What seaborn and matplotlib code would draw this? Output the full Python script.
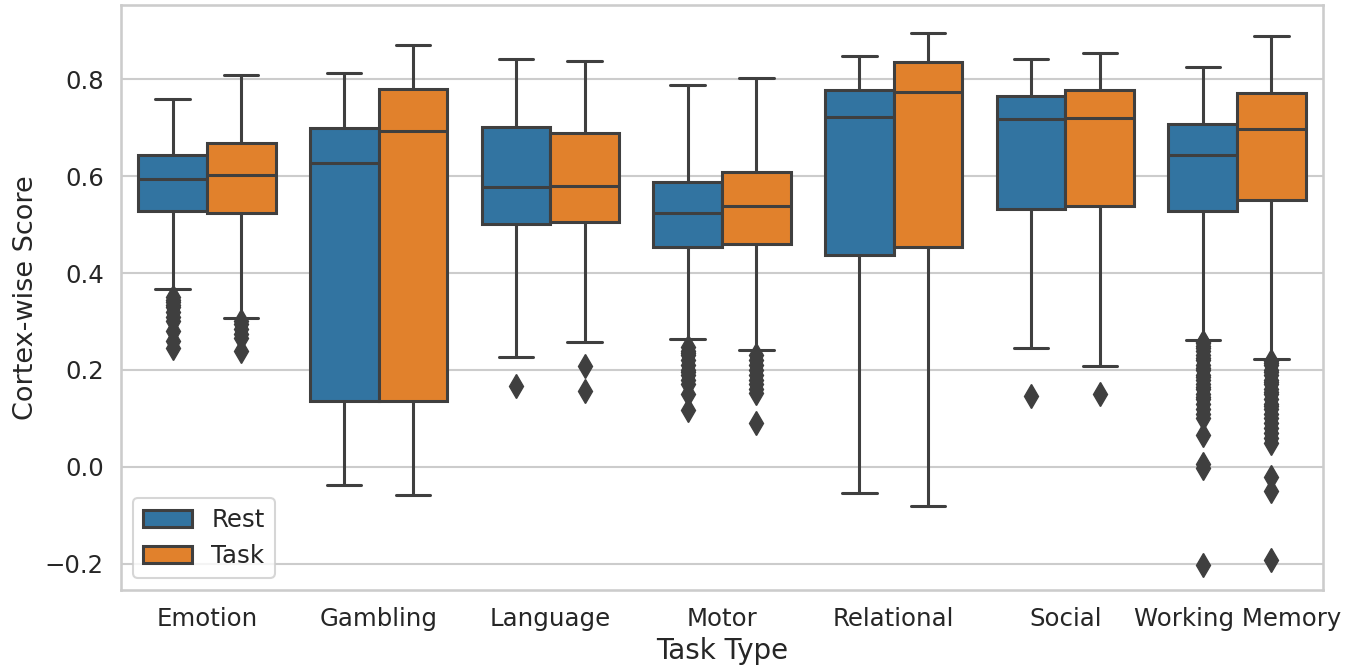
import pandas as pd
import seaborn as sns
import matplotlib.pyplot as plt

# categories
tasks = ["Emotion", "Gambling", "Language", "Motor", "Relational", "Social", "Working Memory"]
conditions = ["Rest", "Task"]

# box stats: (low whisker, q1, median, q3, high whisker)
rest_stats = [
    (0.368, 0.527, 0.594, 0.643, 0.760),
    (-0.038, 0.135, 0.628, 0.699, 0.812),
    (0.227, 0.502, 0.577, 0.701, 0.841),
    (0.264, 0.453, 0.523, 0.588, 0.788),
    (-0.054, 0.438, 0.722, 0.778, 0.848),
    (0.245, 0.533, 0.718, 0.765, 0.841),
    (0.262, 0.529, 0.643, 0.708, 0.825),
]
task_stats = [
    (0.307, 0.524, 0.602, 0.669, 0.808),
    (-0.059, 0.135, 0.693, 0.779, 0.870),
    (0.258, 0.506, 0.579, 0.689, 0.838),
    (0.241, 0.460, 0.539, 0.608, 0.803),
    (-0.080, 0.453, 0.773, 0.835, 0.896),
    (0.208, 0.538, 0.720, 0.777, 0.853),
    (0.223, 0.551, 0.697, 0.771, 0.889),
]

# outliers (all below the lower whisker)
rest_outliers = [
    [0.35, 0.345, 0.34, 0.335, 0.33, 0.32, 0.31, 0.30, 0.28, 0.26, 0.245],
    [],
    [0.166],
    [0.248, 0.24, 0.235, 0.23, 0.22, 0.21, 0.20, 0.195, 0.19, 0.18, 0.17, 0.15, 0.118],
    [],
    [0.146],
    [0.258, 0.255, 0.25, 0.245, 0.24, 0.23, 0.225, 0.22, 0.21, 0.205, 0.20, 0.19,
     0.185, 0.18, 0.17, 0.165, 0.16, 0.15, 0.145, 0.14, 0.13, 0.12, 0.11, 0.10,
     0.066, 0.005, -0.003, -0.202],
]
task_outliers = [
    [0.30, 0.295, 0.285, 0.275, 0.265, 0.24],
    [],
    [0.208, 0.157],
    [0.231, 0.22, 0.21, 0.20, 0.19, 0.18, 0.17, 0.16, 0.153, 0.09],
    [],
    [0.151],
    [0.218, 0.215, 0.21, 0.20, 0.195, 0.19, 0.18, 0.175, 0.17, 0.16, 0.155, 0.15,
     0.14, 0.13, 0.125, 0.12, 0.11, 0.10, 0.09, 0.08, 0.07, 0.06, 0.05,
     -0.02, -0.05, -0.192],
]

REP = 60  # repeat quartile values so the computed quartiles land on them


def build_rows(task, cond, stats, outliers):
    wlo, q1, med, q3, whi = stats
    vals = list(outliers) + [wlo] + [q1] * REP + [med] * REP + [q3] * REP + [whi]
    return [(task, cond, v) for v in vals]


rows = []
for i, t in enumerate(tasks):
    rows += build_rows(t, "Rest", rest_stats[i], rest_outliers[i])
    rows += build_rows(t, "Task", task_stats[i], task_outliers[i])
df = pd.DataFrame(rows, columns=["task", "condition", "score"])

sns.set_theme(style="whitegrid", context="talk")

fig, ax = plt.subplots(figsize=(13.54, 6.71), dpi=100)
sns.boxplot(
    data=df, x="task", y="score", hue="condition",
    order=tasks, hue_order=conditions,
    palette=["#1f77b4", "#ff7f0e"],
    saturation=0.75, linewidth=2.2, linecolor="#3f3f3f",
    flierprops=dict(marker="d", markersize=12,
                    markerfacecolor="#3f3f3f", markeredgecolor="#3f3f3f"),
    ax=ax,
)
ax.set_ylim(-0.254, 0.953)
ax.set_xlim(-0.5, 6.5)
ax.set_yticks([-0.2, 0.0, 0.2, 0.4, 0.6, 0.8])
ax.tick_params(axis="both", labelsize=17.6)
ax.set_xlabel("Task Type", fontsize=20)
ax.set_ylabel("Cortex-wise Score", fontsize=19.5)
sns.move_legend(ax, "lower left", title=None, fontsize=17.6)

fig.subplots_adjust(left=121 / 1354, right=1323 / 1354, top=1 - 5 / 671, bottom=1 - 590 / 671)
fig.savefig("out.png", dpi=100)
